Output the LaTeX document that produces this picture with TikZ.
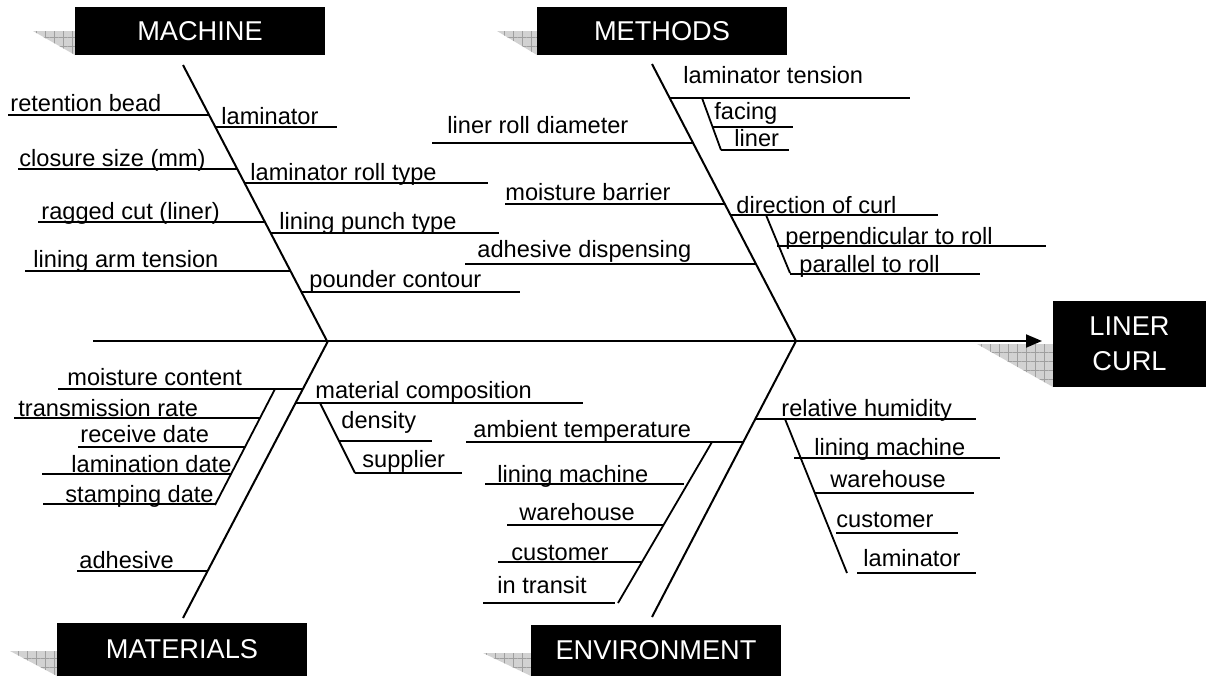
\documentclass[tikz,border=0pt]{standalone}
\usepackage{fontspec}
\setmainfont{Liberation Sans}
\usetikzlibrary{arrows.meta, patterns.meta}
\newcommand{\causefont}{\fontsize{11.8}{14}\selectfont}
\newcommand{\headfont}{\fontsize{13.6}{17.5}\selectfont}

\begin{document}
\begin{tikzpicture}[x=0.5pt, y=-0.5pt,
  head/.style={fill=black, text=white, font=\headfont, inner sep=0pt,
               align=center, minimum width=125pt},
  shade/.style={fill=gray!35, postaction={pattern={Hatch[angle=0, distance=4.5pt, line width=0.3pt]},
                pattern color=gray!75}},
  bone/.style={line width=1pt},
  twig/.style={line width=0.9pt},
  cause/.style={anchor=base west, inner sep=0pt, font=\causefont}
]
  \useasboundingbox (0,0) rectangle (1206,676);

  % shadows behind the heads
  \fill[shade] (33,31)  -- (75,31)   -- (75,55)   -- cycle;
  \fill[shade] (497,31) -- (537,31)  -- (537,55)  -- cycle;
  \fill[shade] (10,651) -- (57,651)  -- (57,676)  -- cycle;
  \fill[shade] (483,653)-- (531,653) -- (531,676) -- cycle;
  \fill[shade] (977,344)-- (1053,344)-- (1053,387)-- cycle;

  % heads
  \node[head, minimum height=24pt]   (machine)   at (200,31)     {MACHINE};
  \node[head, minimum height=24pt]   (methods)   at (662,31)     {METHODS};
  \node[head, minimum height=26.5pt] (materials) at (182,649.5)  {MATERIALS};
  \node[head, minimum height=25.5pt] (environ)   at (656,650.5)  {ENVIRONMENT};
  \node[head, minimum width=76.5pt, minimum height=43pt] (curl) at (1129.5,344) {LINER\\CURL};

  % spine and main bones
  \coordinate (tail)   at (93,341);
  \coordinate (tip)    at (1042,341);
  \coordinate (mtop)   at (183,65);
  \coordinate (mhip)   at (327,341);
  \coordinate (ttop)   at (652,64);
  \coordinate (thip)   at (796,341);
  \coordinate (atop)   at (328,341);
  \coordinate (abot)   at (183,618);
  \coordinate (etop)   at (796,341);
  \coordinate (ebot)   at (652,617);

  \draw[bone, -{Triangle[length=8pt, width=6.5pt]}] (tail) -- (tip);
  \draw[bone] (mtop) -- (mhip);
  \draw[bone] (ttop) -- (thip);
  \draw[bone] (atop) -- (abot);
  \draw[bone] (etop) -- (ebot);

  % machine
  \draw[twig] (8,115) -- (209,115);    \node[cause] (retbead)  at (10,111)  {retention bead};
  \draw[twig] (18,169) -- (237,169);   \node[cause] (closure)  at (19,166)  {closure size (mm)};
  \draw[twig] (38,222) -- (265,222);   \node[cause] (ragged)   at (41,219)  {ragged cut (liner)};
  \draw[twig] (25,271) -- (290,271);   \node[cause] (armten)   at (33,267)  {lining arm tension};
  \draw[twig] (215,127) -- (337,127);  \node[cause] (lamin)    at (221,124) {laminator};
  \draw[twig] (245,183) -- (488,183);  \node[cause] (rolltype) at (250,180) {laminator roll type};
  \draw[twig] (271,233) -- (499,233);  \node[cause] (punch)    at (279,229) {lining punch type};
  \draw[twig] (301,292) -- (520,292);  \node[cause] (pounder)  at (309,287) {pounder contour};

  % methods
  \draw[twig] (432,143) -- (693,143);  \node[cause] (rolldiam) at (447,133) {liner roll diameter};
  \draw[twig] (505,204) -- (725,204);  \node[cause] (barrier)  at (505,200) {moisture barrier};
  \draw[twig] (465,264) -- (756,264);  \node[cause] (dispense) at (477,257) {adhesive dispensing};
  \draw[twig] (670,98) -- (910,98);    \node[cause] (lamten)   at (683,83)  {laminator tension};
  \draw[twig] (702,98) -- (721,150);
  \draw[twig] (712,127) -- (793,127);  \node[cause] (facing)   at (714,119) {facing};
  \draw[twig] (721,150) -- (789,150);  \node[cause] (liner)    at (734,146) {liner};
  \draw[twig] (730,215) -- (938,215);  \node[cause] (curldir)  at (736,213) {direction of curl};
  \draw[twig] (766,215) -- (790,273);
  \draw[twig] (777,246) -- (1046,246); \node[cause] (perp)     at (785,244) {perpendicular to roll};
  \draw[twig] (790,274) -- (980,274);  \node[cause] (parallel) at (799,272) {parallel to roll};

  % materials
  \draw[twig] (58,389) -- (303,389);   \node[cause] (moist)    at (67,385)  {moisture content};
  \draw[twig] (275,389) -- (215,505);
  \draw[twig] (14,418) -- (260,418);   \node[cause] (transm)   at (18,416)  {transmission rate};
  \draw[twig] (78,447) -- (245,447);   \node[cause] (receive)  at (80,442)  {receive date};
  \draw[twig] (42,474) -- (231,474);   \node[cause] (lamdate)  at (71,472)  {lamination date};
  \draw[twig] (43,504) -- (215,504);   \node[cause] (stamp)    at (65,502)  {stamping date};
  \draw[twig] (77,571) -- (208,571);   \node[cause] (adhes)    at (79,568)  {adhesive};
  \draw[twig] (296,403) -- (583,403);  \node[cause] (compos)   at (315,398) {material composition};
  \draw[twig] (320,403) -- (355,473);
  \draw[twig] (339,441) -- (432,441);  \node[cause] (density)  at (341,428) {density};
  \draw[twig] (355,473) -- (462,473);  \node[cause] (supplier) at (362,467) {supplier};

  % environment
  \draw[twig] (466,442) -- (743,442);  \node[cause] (ambient)  at (473,437) {ambient temperature};
  \draw[twig] (712,442) -- (618,603);
  \draw[twig] (485,484) -- (684,484);  \node[cause] (linmachA) at (497,482) {lining machine};
  \draw[twig] (507,525) -- (663,525);  \node[cause] (wareA)    at (519,520) {warehouse};
  \draw[twig] (498,562) -- (642,562);  \node[cause] (custA)    at (511,560) {customer};
  \draw[twig] (483,603) -- (615,603);  \node[cause] (transit)  at (497,593) {in transit};
  \draw[twig] (756,419) -- (976,419);  \node[cause] (humid)    at (781,416) {relative humidity};
  \draw[twig] (785,419) -- (847,573);
  \draw[twig] (794,458) -- (1000,458); \node[cause] (linmachB) at (814,455) {lining machine};
  \draw[twig] (815,493) -- (974,493);  \node[cause] (wareB)    at (830,487) {warehouse};
  \draw[twig] (836,533) -- (958,533);  \node[cause] (custB)    at (836,527) {customer};
  \draw[twig] (857,573) -- (976,573);  \node[cause] (laminB)   at (863,566) {laminator};
\end{tikzpicture}
\end{document}
